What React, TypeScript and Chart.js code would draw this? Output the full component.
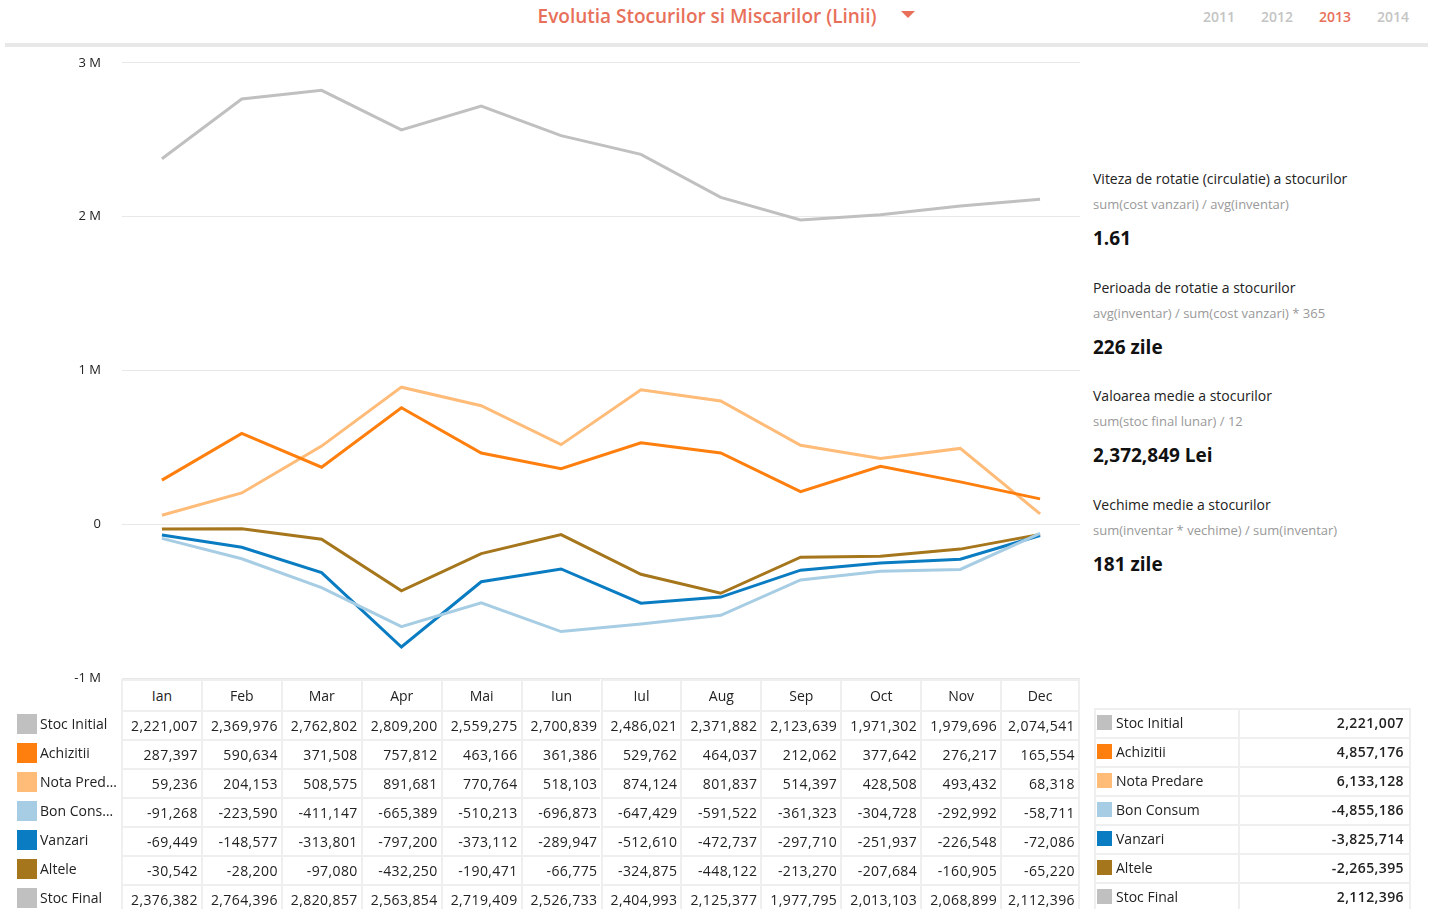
import React, { useEffect, useRef } from "react";
import { Chart, registerables } from "chart.js";

Chart.register(...registerables);

const months = ["Ian", "Feb", "Mar", "Apr", "Mai", "Iun", "Iul", "Aug", "Sep", "Oct", "Nov", "Dec"];
const seriesNames = ["Stoc Initial", "Achizitii", "Nota Predare", "Bon Consum", "Vanzari", "Altele", "Stoc Final"];
const seriesColors = ["#c0c0c0", "#ff7f0e", "#ffbb78", "#a6cde3", "#0a7cc2", "#a6761d", "#c0c0c0"];
const stocInitial = [2221007, 2369976, 2762802, 2809200, 2559275, 2700839, 2486021, 2371882, 2123639, 1971302, 1979696, 2074541];
const achizitii = [287397, 590634, 371508, 757812, 463166, 361386, 529762, 464037, 212062, 377642, 276217, 165554];
const notaPredare = [59236, 204153, 508575, 891681, 770764, 518103, 874124, 801837, 514397, 428508, 493432, 68318];
const bonConsum = [-91268, -223590, -411147, -665389, -510213, -696873, -647429, -591522, -361323, -304728, -292992, -58711];
const vanzari = [-69449, -148577, -313801, -797200, -373112, -289947, -512610, -472737, -297710, -251937, -226548, -72086];
const altele = [-30542, -28200, -97080, -432250, -190471, -66775, -324875, -448122, -213270, -207684, -160905, -65220];
const stocFinal = [2376382, 2764396, 2820857, 2563854, 2719409, 2526733, 2404993, 2125377, 1977795, 2013103, 2068899, 2112396];
const totals = [2221007, 4857176, 6133128, -4855186, -3825714, -2265395, 2112396];
const yTicks = [-1000000, 0, 1000000, 2000000, 3000000];
const yearTabs = ["2011", "2012", "2013", "2014"];
const activeYear = "2013";
const kpis = [
  { title: "Viteza de rotatie (circulatie) a stocurilor", formula: "sum(cost vanzari) / avg(inventar)", value: "1.61" },
  { title: "Perioada de rotatie a stocurilor", formula: "avg(inventar) / sum(cost vanzari) * 365", value: "226 zile" },
  { title: "Valoarea medie a stocurilor", formula: "sum(stoc final lunar) / 12", value: "2,372,849 Lei" },
  { title: "Vechime medie a stocurilor", formula: "sum(inventar * vechime) / sum(inventar)", value: "181 zile" },
];

const tableRows = [stocInitial, achizitii, notaPredare, bonConsum, vanzari, altele, stocFinal];
// plotted series (index into seriesNames), in drawing order
const plotted = [6, 1, 2, 3, 4, 5];

const FONT = "'Open Sans', Lato, sans-serif";
const fmt = (v: number) => v.toLocaleString("en-US");

export default function App() {
  const ref = useRef<HTMLCanvasElement | null>(null);

  useEffect(() => {
    if (!ref.current) return;
    const chart = new Chart(ref.current, {
      type: "line",
      data: {
        labels: months,
        datasets: plotted.map((i) => ({
          label: seriesNames[i],
          data: tableRows[i],
          borderColor: seriesColors[i],
          backgroundColor: seriesColors[i],
          borderWidth: 3,
          pointRadius: 0,
          tension: 0,
          fill: false,
        })),
      },
      options: {
        animation: false,
        responsive: false,
        layout: { padding: { top: 0, bottom: 0, right: 5, left: 0 } },
        plugins: { legend: { display: false }, tooltip: { enabled: false } },
        scales: {
          x: { display: false, offset: true },
          y: {
            min: -1000000,
            max: 3000000,
            afterBuildTicks: (s: any) => {
              s.ticks = yTicks.map((v) => ({ value: v }));
            },
            afterFit: (s: any) => {
              s.width = 122;
            },
            border: { display: false },
            grid: { color: "#e8e8e8", drawTicks: false, lineWidth: 1 },
            ticks: {
              padding: 21,
              color: "#222",
              font: { family: FONT, size: 13 },
              callback: (v: any) => (v === 0 ? "0" : v / 1000000 + " M"),
            },
          },
        },
      },
    });
    return () => chart.destroy();
  }, []);

  const colX0 = 121;
  const colW = (1080 - 121) / 12;
  const headTop = 679;
  const headH = 31;
  const rowH = 29;
  const border = "2px solid #efefef";

  return (
    <div style={{ position: "fixed", left: 0, top: 0, width: 1430, height: 909, overflow: "hidden", background: "#fff", fontFamily: FONT, color: "#222" }}>
      <canvas ref={ref} width={1085} height={673} style={{ position: "absolute", left: 0, top: 34, width: 1085, height: 673 }} />

      <div style={{ position: "absolute", left: 0, width: 1414, top: 3, textAlign: "center", fontSize: 19, fontWeight: 600, color: "#e8705a" }}>
        Evolutia Stocurilor si Miscarilor (Linii)
      </div>
      <div style={{ position: "absolute", left: 901, top: 11, width: 0, height: 0, borderLeft: "7px solid transparent", borderRight: "7px solid transparent", borderTop: "7px solid #e8705a" }} />
      {yearTabs.map((y, i) => (
        <div key={y} style={{ position: "absolute", left: 1203 + i * 58, top: 7, fontSize: 14, fontWeight: 600, color: y === activeYear ? "#e8705a" : "#c4c4c4" }}>
          {y}
        </div>
      ))}
      <div style={{ position: "absolute", left: 5, width: 1423, top: 43, height: 4, background: "#e8e8e8" }} />

      {kpis.map((k, i) => (
        <div key={i} style={{ position: "absolute", left: 1093, top: 169 + i * 108.5 }}>
          <div style={{ fontSize: 14, color: "#222", height: 26 }}>{k.title}</div>
          <div style={{ fontSize: 13, color: "#999", height: 24 }}>{k.formula}</div>
          <div style={{ fontSize: 19, fontWeight: 700, color: "#111", marginTop: 6 }}>{k.value}</div>
        </div>
      ))}

      {/* main table header */}
      {months.map((m, j) => (
        <div key={m} style={{ position: "absolute", left: colX0 + j * colW, top: headTop, width: colW, height: headH, boxSizing: "border-box", borderTop: border, borderLeft: border, borderRight: j === 11 ? border : undefined, background: "#fff", display: "flex", alignItems: "center", justifyContent: "center", fontSize: 14 }}>
          {m}
        </div>
      ))}
      {tableRows.map((row, r) => (
        <React.Fragment key={r}>
          <div style={{ position: "absolute", left: 17, top: headTop + headH + r * rowH + 4, width: 20, height: 20, background: seriesColors[r] }} />
          <div style={{ position: "absolute", left: 40, top: headTop + headH + r * rowH, width: 78, height: rowH, lineHeight: rowH - 2 + "px", fontSize: 14, whiteSpace: "nowrap", overflow: "hidden", textOverflow: "ellipsis" }}>
            {seriesNames[r]}
          </div>
          {row.map((v, j) => (
            <div key={j} style={{ position: "absolute", left: colX0 + j * colW, top: headTop + headH + r * rowH, width: colW, height: rowH, boxSizing: "border-box", borderTop: border, borderLeft: border, borderRight: j === 11 ? border : undefined, textAlign: "right", paddingRight: 3, lineHeight: rowH - 2 + "px", fontSize: 14, letterSpacing: 0.4 }}>
              {fmt(v)}
            </div>
          ))}
        </React.Fragment>
      ))}

      {/* summary table */}
      {seriesNames.map((n, r) => (
        <React.Fragment key={n}>
          <div style={{ position: "absolute", left: 1094, top: 708 + r * rowH, width: 144, height: rowH, boxSizing: "border-box", borderTop: border, borderLeft: border, lineHeight: rowH - 4 + "px", fontSize: 14, paddingLeft: 20 }}>
            <div style={{ position: "absolute", left: 1, top: 5, width: 15, height: 15, background: seriesColors[r] }} />
            {n}
          </div>
          <div style={{ position: "absolute", left: 1238, top: 708 + r * rowH, width: 173, height: rowH, boxSizing: "border-box", borderTop: border, borderLeft: border, borderRight: border, lineHeight: rowH - 4 + "px", fontSize: 14, textAlign: "right", paddingRight: 5, fontWeight: 600, letterSpacing: 0.4 }}>
            {fmt(totals[r])}
          </div>
        </React.Fragment>
      ))}
    </div>
  );
}
